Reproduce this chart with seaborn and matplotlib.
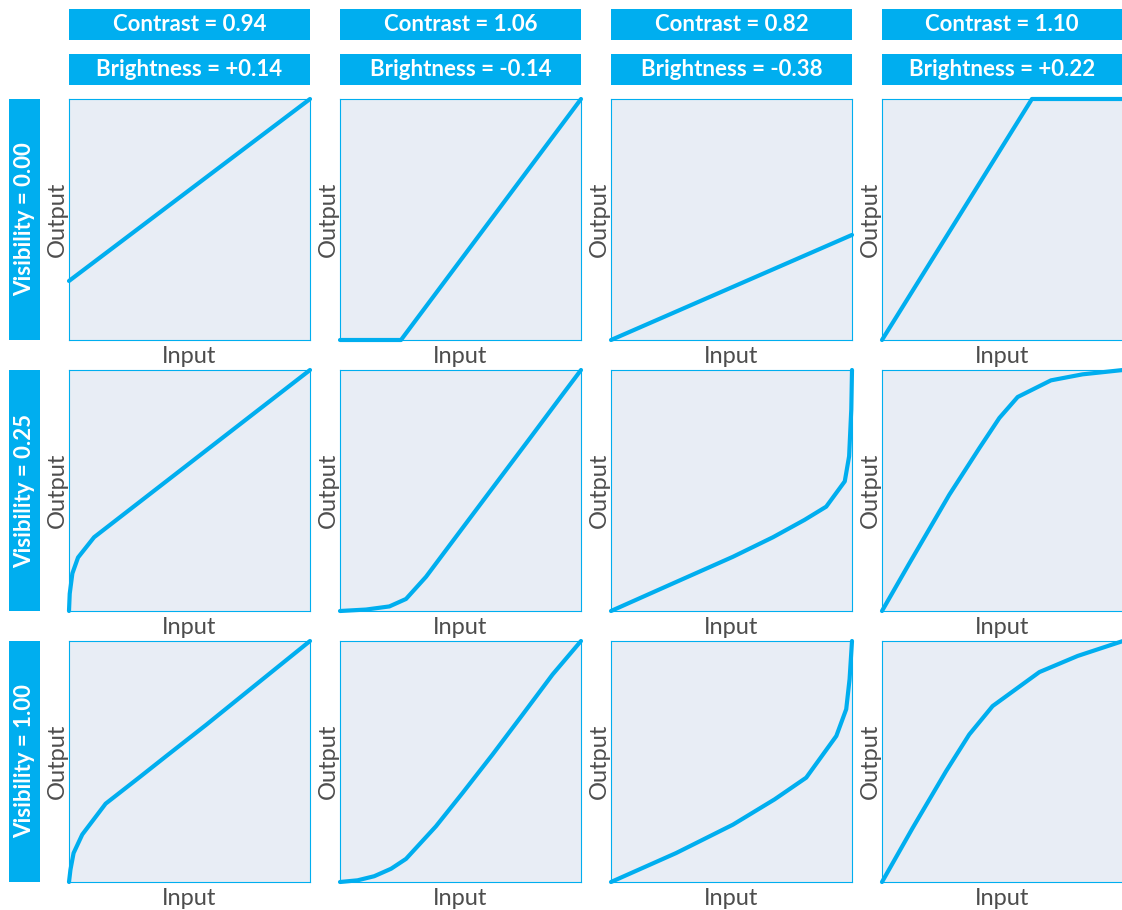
import matplotlib
matplotlib.use("Agg")
import matplotlib.pyplot as plt
from matplotlib.patches import Rectangle
import seaborn as sns
import pandas as pd

# column / row headers
contrast_labels = ["Contrast = 0.94", "Contrast = 1.06", "Contrast = 0.82", "Contrast = 1.10"]
brightness_labels = ["Brightness = +0.14", "Brightness = -0.14", "Brightness = -0.38", "Brightness = +0.22"]
visibility_labels = ["Visibility = 0.00", "Visibility = 0.25", "Visibility = 1.00"]

# curves (input, output), normalised 0..1
# visibility 0.00
v0_c0_x = [0.0, 1.0]
v0_c0_y = [0.245, 1.0]
v0_c1_x = [0.0, 0.253, 1.0]
v0_c1_y = [0.0, 0.0, 1.0]
v0_c2_x = [0.0, 1.0]
v0_c2_y = [0.0, 0.436]
v0_c3_x = [0.0, 0.622, 1.0]
v0_c3_y = [0.0, 1.0, 1.0]

# visibility 0.25
v1_c0_x = [0.0, 0.003, 0.014, 0.0375, 0.104, 1.0]
v1_c0_y = [0.0, 0.072, 0.156, 0.222, 0.306, 1.0]
v1_c1_x = [0.0, 0.108, 0.205, 0.274, 0.357, 0.509, 0.647, 0.786, 0.924, 1.0]
v1_c1_y = [0.0, 0.006, 0.019, 0.05, 0.142, 0.345, 0.529, 0.714, 0.899, 1.0]
v1_c2_x = [0.0, 0.256, 0.506, 0.672, 0.803, 0.893, 0.970, 0.988, 0.997, 1.0]
v1_c2_y = [0.0, 0.114, 0.225, 0.306, 0.378, 0.433, 0.538, 0.642, 0.836, 1.0]
v1_c3_x = [0.0, 0.113, 0.279, 0.404, 0.487, 0.563, 0.701, 0.832, 1.0]
v1_c3_y = [0.0, 0.197, 0.482, 0.676, 0.801, 0.888, 0.957, 0.982, 1.0]

# visibility 1.00
v2_c0_x = [0.0, 0.006, 0.019, 0.055, 0.152, 0.293, 0.403, 0.569, 0.762, 1.0]
v2_c0_y = [0.0, 0.051, 0.120, 0.197, 0.325, 0.435, 0.522, 0.652, 0.808, 1.0]
v2_c1_x = [0.0, 0.073, 0.142, 0.212, 0.274, 0.398, 0.509, 0.633, 0.758, 0.882, 1.0]
v2_c1_y = [0.0, 0.007, 0.024, 0.055, 0.096, 0.231, 0.370, 0.529, 0.695, 0.861, 1.0]
v2_c2_x = [0.0, 0.270, 0.506, 0.679, 0.810, 0.935, 0.976, 0.990, 1.0]
v2_c2_y = [0.0, 0.120, 0.238, 0.343, 0.433, 0.606, 0.717, 0.842, 1.0]
v2_c3_x = [0.0, 0.127, 0.266, 0.362, 0.459, 0.653, 0.812, 1.0]
v2_c3_y = [0.0, 0.224, 0.460, 0.612, 0.730, 0.871, 0.938, 1.0]

curves = [
    [(v0_c0_x, v0_c0_y), (v0_c1_x, v0_c1_y), (v0_c2_x, v0_c2_y), (v0_c3_x, v0_c3_y)],
    [(v1_c0_x, v1_c0_y), (v1_c1_x, v1_c1_y), (v1_c2_x, v1_c2_y), (v1_c3_x, v1_c3_y)],
    [(v2_c0_x, v2_c0_y), (v2_c1_x, v2_c1_y), (v2_c2_x, v2_c2_y), (v2_c3_x, v2_c3_y)],
]

BLUE = "#00aeef"
FACE = "#e8edf5"
GREY = "#4d4d4d"

sns.set_style("white")
plt.rcParams["font.family"] = ["Lato", "DejaVu Sans"]

W, H = 1122, 910
fig = plt.figure(figsize=(W / 100, H / 100), dpi=100)

col_left = [69, 340, 611, 882]
row_top = [99, 370, 641]
size = 241


def fbox(x, y, w, h):
    # pixel box (top-left origin) -> figure fraction
    return x / W, 1 - (y + h) / H, w / W, h / H


for r in range(3):
    for c in range(4):
        ax = fig.add_axes(fbox(col_left[c], row_top[r], size, size))
        xs, ys = curves[r][c]
        df = pd.DataFrame({"Input": xs, "Output": ys})
        sns.lineplot(data=df, x="Input", y="Output", ax=ax, color=BLUE,
                     linewidth=3.0, sort=False, clip_on=False, zorder=5)
        ax.set_xlim(0, 1)
        ax.set_ylim(0, 1)
        ax.set_facecolor(FACE)
        ax.set_xticks([])
        ax.set_yticks([])
        for s in ax.spines.values():
            s.set_color(BLUE)
            s.set_linewidth(0.8)
        ax.set_xlabel("Input", fontsize=17, color=GREY, labelpad=4)
        ax.set_ylabel("Output", fontsize=17, color=GREY, labelpad=1)

# header boxes
for c in range(4):
    w = min(size, W - col_left[c])
    for y0, txt in [(9, contrast_labels[c]), (54, brightness_labels[c])]:
        x, y, bw, bh = fbox(col_left[c], y0, w, 31)
        fig.patches.append(Rectangle((x, y), bw, bh, transform=fig.transFigure,
                                     facecolor=BLUE, edgecolor="none"))
        fig.text(x + bw / 2, y + bh / 2, txt, ha="center", va="center",
                 color="white", fontsize=16, fontweight="bold")

for r in range(3):
    x, y, bw, bh = fbox(9, row_top[r], 31, size)
    fig.patches.append(Rectangle((x, y), bw, bh, transform=fig.transFigure,
                                 facecolor=BLUE, edgecolor="none"))
    fig.text(x + bw / 2, y + bh / 2, visibility_labels[r], ha="center", va="center",
             rotation=90, color="white", fontsize=16, fontweight="bold")

fig.savefig("out.png", dpi=100)
